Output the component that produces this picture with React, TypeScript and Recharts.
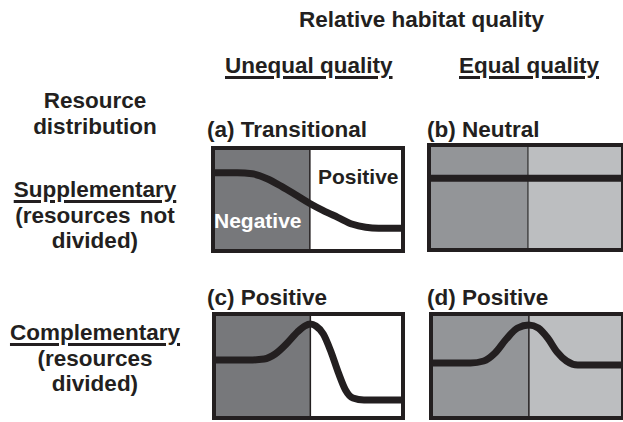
import React from 'react';
import { LineChart, Line, XAxis, YAxis, ReferenceArea, ReferenceLine } from 'recharts';

// ---- data (curve shapes, x and y in 0-100 units) ----
const panelAx = [0, 12, 20, 28, 36, 44, 51, 58, 66, 74, 81, 88, 100];
const panelAy = [77, 77, 76, 71, 63, 54, 46, 39, 32, 25, 22, 21, 21];
const panelBx = [0, 50, 100];
const panelBy = [69, 69, 69];
const panelCx = [0, 18, 26, 32, 38, 44, 48, 51, 54, 58, 62, 66, 70, 74, 80, 100];
const panelCy = [56, 56, 57, 62, 72, 84, 90, 92, 90, 82, 65, 44, 26, 18, 16, 16];
const panelDx = [0, 20, 27, 33, 39, 45, 51, 56, 61, 66, 71, 77, 84, 100];
const panelDy = [53, 53, 55, 63, 77, 88, 91, 88, 78, 64, 55, 51, 51, 51];

const panelTitles = ['(a) Transitional', '(b) Neutral', '(c) Positive', '(d) Positive'];
const columnHeads = ['Unequal quality', 'Equal quality'];
const rowHeads = ['Supplementary', 'Complementary'];
const rowSubs = [['(resources not', 'divided)'], ['(resources', 'divided)']];
const topTitle = 'Relative habitat quality';
const cornerLabel = ['Resource', 'distribution'];
const regionLabels = ['Negative', 'Positive'];

const toRows = (xs: number[], ys: number[]) => xs.map((x, i) => ({ x, y: ys[i] }));

const BLACK = '#231f20';
const DARK = '#77787b';
const MID = '#939598';
const LIGHT = '#bcbec0';
const FONT = '"Liberation Sans", Arial, Helvetica, sans-serif';
const FS = 22.5;

type PanelProps = {
  left: number; top: number; width: number; height: number;
  data: { x: number; y: number }[];
  leftFill: string; rightFill: string; divider: number; dividerColor: string;
};

function Panel({ left, top, width, height, data, leftFill, rightFill, divider, dividerColor }: PanelProps) {
  const b = 4;
  return (
    <div style={{ position: 'absolute', left, top, width, height, boxSizing: 'border-box', border: `${b}px solid ${BLACK}` }}>
      <LineChart width={width - 2 * b} height={height - 2 * b} data={data} margin={{ top: 0, right: 0, bottom: 0, left: 0 }}>
        <XAxis type="number" dataKey="x" domain={[0, 100]} hide />
        <YAxis type="number" domain={[0, 100]} hide />
        <ReferenceArea x1={0} x2={divider} y1={0} y2={100} fill={leftFill} fillOpacity={1} stroke="none" />
        <ReferenceArea x1={divider} x2={100} y1={0} y2={100} fill={rightFill} fillOpacity={1} stroke="none" />
        <ReferenceLine x={divider} stroke={dividerColor} strokeWidth={1.5} />
        <Line type="monotone" dataKey="y" stroke={BLACK} strokeWidth={7} dot={false} isAnimationActive={false} />
      </LineChart>
    </div>
  );
}

const txt = (s: string, left: number, top: number, size: number, extra: React.CSSProperties = {}) => (
  <div style={{ position: 'absolute', left, top, fontSize: size, fontWeight: 'bold', fontFamily: FONT, color: BLACK, lineHeight: 1, whiteSpace: 'nowrap', ...extra }}>{s}</div>
);

const UL: React.CSSProperties = { textDecoration: 'underline', textDecorationThickness: '2.5px', textUnderlineOffset: '3px' };
const CENTER: React.CSSProperties = { width: 190, textAlign: 'center' };

export default function App() {
  return (
    <div style={{ position: 'absolute', left: 0, top: 0, width: 623, height: 422, background: '#fff', overflow: 'hidden' }}>
      {txt(topTitle, 299, 9, FS)}
      {txt(columnHeads[0], 225, 55, FS, UL)}
      {txt(columnHeads[1], 459, 55, FS, UL)}
      {txt(cornerLabel[0], 0, 90, FS, CENTER)}
      {txt(cornerLabel[1], 0, 116, FS, CENTER)}
      {txt(panelTitles[0], 207, 119, FS)}
      {txt(panelTitles[1], 427, 119, FS)}
      {txt(rowHeads[0], 0, 179, FS, { ...CENTER, ...UL })}
      {txt(rowSubs[0][0], 0, 205, FS, { ...CENTER, wordSpacing: 3 })}
      {txt(rowSubs[0][1], 0, 230, FS, CENTER)}
      {txt(panelTitles[2], 207, 287, FS)}
      {txt(panelTitles[3], 427, 287, FS)}
      {txt(rowHeads[1], 0, 322, FS, { ...CENTER, ...UL })}
      {txt(rowSubs[1][0], 0, 348, FS, CENTER)}
      {txt(rowSubs[1][1], 0, 373, FS, CENTER)}

      <Panel left={211} top={146} width={194} height={107} data={toRows(panelAx, panelAy)} leftFill={DARK} rightFill="#ffffff" divider={51} dividerColor={BLACK} />
      <Panel left={427} top={143} width={198} height={109} data={toRows(panelBx, panelBy)} leftFill={MID} rightFill={LIGHT} divider={51} dividerColor="#444" />
      <Panel left={212} top={312} width={193} height={108} data={toRows(panelCx, panelCy)} leftFill={DARK} rightFill="#ffffff" divider={51} dividerColor={BLACK} />
      <Panel left={429} top={312} width={196} height={108} data={toRows(panelDx, panelDy)} leftFill={MID} rightFill={LIGHT} divider={51} dividerColor={BLACK} />

      {txt(regionLabels[0], 214, 210, 21, { color: '#ffffff' })}
      {txt(regionLabels[1], 318, 166, 21)}
    </div>
  );
}
